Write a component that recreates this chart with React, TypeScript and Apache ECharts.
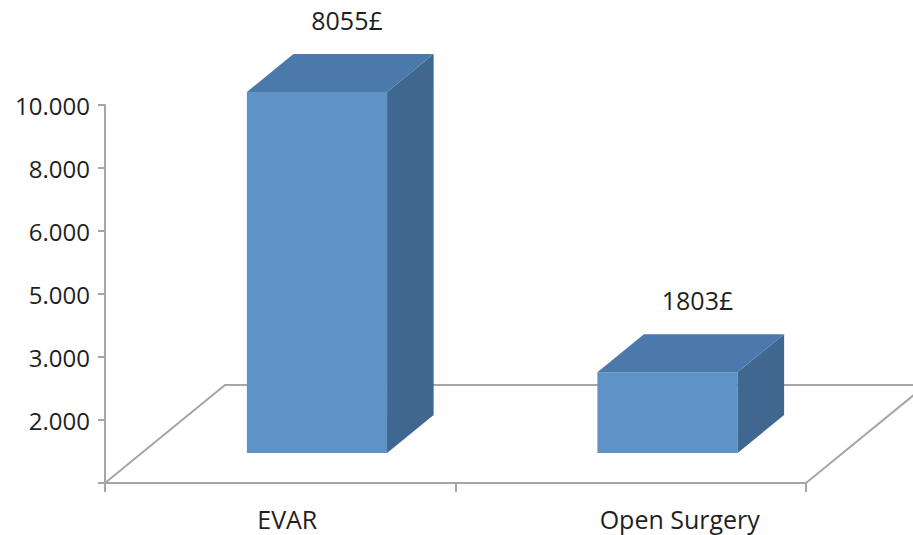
import React, { useEffect, useRef } from "react";
import * as echarts from "echarts";

const categories = ["EVAR", "Open Surgery"];
const costValues = [8055, 1803];
const yTickLabels = ["", "2.000", "3.000", "5.000", "6.000", "8.000", "10.000"];
const barAxisMax = 8434;

const FRONT = "#5f93c8";
const TOP = "#4b79ab";
const SIDE = "#3f6790";
const GRAY = "#a6a6a6";
const TEXT = "#1f1f1f";
const FONT = "'Open Sans', 'Noto Sans', sans-serif";

export default function App() {
  const ref = useRef<HTMLDivElement>(null);

  useEffect(() => {
    if (!ref.current) return;
    const chart = echarts.init(ref.current, null, { renderer: "svg" });

    const floorDX = 120;
    const floorDY = -98;
    const depthFront = 30 / 98;
    const depthBack = 68 / 98;

    const labelShift = [14, 98];

    chart.setOption({
      animation: false,
      backgroundColor: "#ffffff",
      grid: { left: 105, top: 105, width: 701, height: 378 },
      xAxis: {
        type: "category",
        data: categories,
        boundaryGap: true,
        axisLine: { show: true, lineStyle: { color: GRAY, width: 2 } },
        axisTick: { show: true, alignWithLabel: false, length: 9, lineStyle: { color: GRAY, width: 2 } },
        axisLabel: {
          margin: 23,
          formatter: (v: string) => (v === categories[0] ? `{a|${v}}` : `{b|${v}}`),
          rich: {
            a: { fontSize: 25, fontFamily: FONT, color: TEXT, padding: [0, 0, 0, labelShift[0]] },
            b: { fontSize: 25, fontFamily: FONT, color: TEXT, padding: [0, 0, 0, labelShift[1]] },
          },
        },
        splitLine: { show: false },
      },
      yAxis: [
        {
          type: "value",
          min: 0,
          max: 6,
          interval: 1,
          axisLine: { show: true, lineStyle: { color: GRAY, width: 2 } },
          axisTick: { show: true, length: 7, lineStyle: { color: GRAY, width: 2 } },
          axisLabel: {
            margin: 15,
            fontSize: 24,
            fontFamily: FONT,
            color: TEXT,
            formatter: (v: number) => yTickLabels[Math.round(v)] ?? "",
          },
          splitLine: { show: false },
        },
        {
          type: "value",
          min: 0,
          max: barAxisMax,
          show: false,
          splitLine: { show: false },
        },
      ],
      series: [
        {
          type: "custom",
          xAxisIndex: 0,
          yAxisIndex: 0,
          clip: false,
          silent: true,
          data: [[0, 0]],
          renderItem: (params: any) => {
            const cs = params.coordSys;
            const x = cs.x;
            const yb = cs.y + cs.height;
            const w = cs.width;
            return {
              type: "group",
              children: [
                {
                  type: "polyline",
                  shape: {
                    points: [
                      [x, yb],
                      [x + floorDX, yb + floorDY],
                      [x + w + floorDX, yb + floorDY],
                    ],
                  },
                  style: { stroke: GRAY, lineWidth: 2, fill: "none" },
                },
                {
                  type: "line",
                  shape: { x1: x + w, y1: yb, x2: x + w + floorDX, y2: yb + floorDY },
                  style: { stroke: GRAY, lineWidth: 2 },
                },
              ],
            };
          },
        },
        {
          type: "custom",
          xAxisIndex: 0,
          yAxisIndex: 1,
          clip: false,
          data: costValues.map((v, i) => [i, v]),
          renderItem: (params: any, api: any) => {
            const idx = api.value(0);
            const v = api.value(1);
            const base = api.coord([idx, 0]);
            const top = api.coord([idx, v]);
            const band = api.size([1, 0])[0];
            const w = band * 0.4;
            const sx = floorDX * depthFront;
            const sy = floorDY * depthFront;
            const dx = floorDX * (depthBack - depthFront);
            const dy = floorDY * (depthBack - depthFront);
            const cx = base[0] + sx;
            const x0 = cx - w / 2;
            const x1 = cx + w / 2;
            const yb = base[1] + sy;
            const yt = top[1] + sy;
            return {
              type: "group",
              children: [
                {
                  type: "polygon",
                  shape: { points: [[x0, yt], [x1, yt], [x1, yb], [x0, yb]] },
                  style: { fill: FRONT },
                },
                {
                  type: "polygon",
                  shape: { points: [[x1, yt], [x1 + dx, yt + dy], [x1 + dx, yb + dy], [x1, yb]] },
                  style: { fill: SIDE },
                },
                {
                  type: "polygon",
                  shape: { points: [[x0, yt], [x0 + dx, yt + dy], [x1 + dx, yt + dy], [x1, yt]] },
                  style: { fill: TOP },
                },
                {
                  type: "text",
                  x: cx + 30,
                  y: yt + dy - 34,
                  style: {
                    text: `${costValues[idx]}£`,
                    fill: TEXT,
                    fontSize: 25,
                    fontFamily: FONT,
                    align: "center",
                    verticalAlign: "middle",
                  },
                },
              ],
            };
          },
        },
      ],
    });

    return () => chart.dispose();
  }, []);

  return (
    <div
      ref={ref}
      style={{ position: "fixed", left: 0, top: 0, width: 913, height: 535, background: "#fff" }}
    />
  );
}
